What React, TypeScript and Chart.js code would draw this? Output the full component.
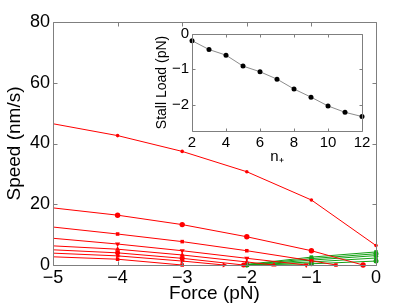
import React, { useEffect, useRef } from "react";
import { Chart, registerables } from "chart.js";
Chart.register(...registerables);

// ---- Main plot data (Force in pN, Speed in nm/s) ----
const forceS1 = [-5, -4, -3, -2, -1, 0];
const speedS1 = [46.5, 42.6, 37.4, 30.7, 21.4, 6.4];
const forceS2 = [-5, -4, -3, -2, -1, -0.2];
const speedS2 = [18.8, 16.4, 13.3, 9.3, 4.7, 0];
const forceS3 = [-5, -4, -3, -2, -1, -0.62];
const speedS3 = [12.5, 10.2, 7.7, 4.7, 1.4, 0];
const forceS4 = [-5, -4, -3, -2, -1.08];
const speedS4 = [8.8, 6.9, 4.7, 2.2, 0];
const forceS5 = [-5, -4, -3, -2, -1.58];
const speedS5 = [6.3, 5.2, 3.3, 1.0, 0];
const forceS6 = [-5, -4, -3, -2.05];
const speedS6 = [5.0, 4.0, 2.2, 0];
const forceS7 = [-5, -4, -3, -2.35];
const speedS7 = [3.9, 3.0, 1.3, 0];
const forceS8 = [-5, -4, -3];
const speedS8 = [2.7, 1.9, 0];

const forceG = [-2, -1, 0];
const speedG1 = [0.2, 2.6, 4.3];
const speedG2 = [0.1, 2.1, 3.7];
const speedG3 = [0.0, 1.6, 3.1];
const speedG4 = [0.0, 1.0, 2.3];
const speedG5 = [0.0, 0.4, 1.3];

const mainXTicks = [-5, -4, -3, -2, -1, 0];
const mainYTicks = [0, 20, 40, 60, 80];

// ---- Inset data ----
const nPlus = [2, 3, 4, 5, 6, 7, 8, 9, 10, 11, 12];
const stallLoad = [-0.19, -0.44, -0.6, -0.91, -1.07, -1.28, -1.56, -1.79, -2.04, -2.22, -2.34];
const insetXTicks = [2, 4, 6, 8, 10, 12];
const insetYTicks = [-2, -1, 0];

const FONT = "'Liberation Sans', Arial, Helvetica, sans-serif";
const RED = "#ff0000";
const GREEN = "#14a014";
const AXIS = "#7f7f7f";

const fmt = (v: number) => String(v).replace("-", "\u2212");
const pts = (xs: number[], ys: number[]) => xs.map((x, i) => ({ x, y: ys[i] }));

function framePlugin(xTicks: number[], yTicks: number[], len: number) {
  return {
    id: "frame",
    beforeDraw(chart: any) {
      const { ctx, chartArea: a } = chart;
      ctx.save();
      ctx.fillStyle = "#ffffff";
      ctx.fillRect(a.left, a.top, a.right - a.left, a.bottom - a.top);
      ctx.restore();
    },
    afterDraw(chart: any) {
      const { ctx, chartArea: a, scales } = chart;
      const x = scales.x, y = scales.y;
      const L = Math.round(a.left) + 0.5, R = Math.round(a.right) + 0.5;
      const T = Math.round(a.top) + 0.5, B = Math.round(a.bottom) + 0.5;
      ctx.save();
      ctx.strokeStyle = AXIS;
      ctx.lineWidth = 1;
      ctx.beginPath();
      ctx.rect(L, T, R - L, B - T);
      for (const v of xTicks) {
        const px = Math.round(x.getPixelForValue(v)) + 0.5;
        ctx.moveTo(px, B); ctx.lineTo(px, B - len);
        ctx.moveTo(px, T); ctx.lineTo(px, T + len);
      }
      for (const v of yTicks) {
        const py = Math.round(y.getPixelForValue(v)) + 0.5;
        ctx.moveTo(L, py); ctx.lineTo(L + len, py);
        ctx.moveTo(R, py); ctx.lineTo(R - len, py);
      }
      ctx.stroke();
      ctx.restore();
    },
  };
}

function redSet(xs: number[], ys: number[], style: string, r: number, rot = 0) {
  return {
    data: pts(xs, ys),
    borderColor: RED,
    backgroundColor: RED,
    borderWidth: 1,
    pointStyle: style,
    pointRotation: rot,
    pointRadius: (c: any) => (c.dataIndex === 0 ? 0 : r),
    pointBorderWidth: 0,
    clip: { left: 0, top: 6, right: 6, bottom: 6 },
  };
}
function greenSet(ys: number[], style: string, r: number) {
  return {
    data: pts(forceG, ys),
    borderColor: GREEN,
    backgroundColor: GREEN,
    borderWidth: 1,
    pointStyle: style,
    pointRadius: r,
    pointBorderWidth: 0,
    clip: { left: 0, top: 6, right: 6, bottom: 6 },
  };
}

const noGrid = { display: false, drawTicks: false };

export default function App() {
  const mainRef = useRef<HTMLCanvasElement>(null);
  const insetRef = useRef<HTMLCanvasElement>(null);

  useEffect(() => {
    const main = new Chart(mainRef.current!, {
      type: "line",
      data: {
        datasets: [
          redSet(forceS8, speedS8, "rect", 2.5),
          redSet(forceS7, speedS7, "triangle", 3, 90),
          redSet(forceS6, speedS6, "circle", 2.5),
          redSet(forceS5, speedS5, "triangle", 3),
          redSet(forceS4, speedS4, "triangle", 3, 180),
          redSet(forceS3, speedS3, "rect", 2.5),
          redSet(forceS2, speedS2, "circle", 2.7),
          redSet(forceS1, speedS1, "circle", 1.8),
          greenSet(speedG5, "circle", 2.5),
          greenSet(speedG4, "rect", 2.5),
          greenSet(speedG3, "triangle", 3),
          greenSet(speedG2, "circle", 2.5),
          greenSet(speedG1, "rect", 2.5),
        ] as any,
      },
      options: {
        animation: false,
        responsive: false,
        layout: { padding: { top: 22, right: 39, left: 0, bottom: 0 } },
        plugins: { legend: { display: false }, tooltip: { enabled: false } },
        elements: { line: { tension: 0 } },
        scales: {
          x: {
            type: "linear",
            min: -5,
            max: 0,
            afterBuildTicks: (s: any) => { s.ticks = mainXTicks.map((v) => ({ value: v })); },
            afterFit: (s: any) => { s.height = 40; },
            grid: noGrid,
            border: { display: false },
            ticks: { autoSkip: false, maxRotation: 0, padding: 2, color: "#000", font: { family: FONT, size: 18 }, callback: (v: any) => fmt(v) },
            title: { display: true, text: "Force (pN)", color: "#000", font: { family: FONT, size: 19 }, padding: { top: 0, bottom: 0 } },
          },
          y: {
            type: "linear",
            min: 0,
            max: 80,
            afterBuildTicks: (s: any) => { s.ticks = mainYTicks.map((v) => ({ value: v })); },
            afterFit: (s: any) => { s.width = 53; },
            grid: noGrid,
            border: { display: false },
            ticks: { autoSkip: false, padding: 3, color: "#000", font: { family: FONT, size: 18 }, callback: (v: any) => fmt(v) },
            title: { display: true, text: "Speed (nm/s)", color: "#000", font: { family: FONT, size: 19 }, padding: { top: 3, bottom: 0 } },
          },
        },
      },
      plugins: [framePlugin(mainXTicks, mainYTicks, 4)],
    } as any);

    const inset = new Chart(insetRef.current!, {
      type: "line",
      data: {
        datasets: [
          {
            data: pts(nPlus, stallLoad),
            borderColor: "#8c8c8c",
            backgroundColor: "#000",
            borderWidth: 1,
            pointRadius: 2.5,
            pointBorderWidth: 0,
            clip: false,
          },
        ] as any,
      },
      options: {
        animation: false,
        responsive: false,
        layout: { padding: { top: 8, right: 13, left: 0, bottom: 0 } },
        plugins: { legend: { display: false }, tooltip: { enabled: false } },
        elements: { line: { tension: 0 } },
        scales: {
          x: {
            type: "linear",
            min: 2,
            max: 12,
            afterBuildTicks: (s: any) => { s.ticks = insetXTicks.map((v) => ({ value: v })); },
            afterFit: (s: any) => { s.height = 41; },
            grid: noGrid,
            border: { display: false },
            ticks: { autoSkip: false, maxRotation: 0, padding: 3, color: "#000", font: { family: FONT, size: 15 }, callback: (v: any) => fmt(v) },
            title: { display: true, text: "n\u208A", color: "#000", font: { family: FONT, size: 15 }, padding: { top: 0, bottom: 6 } },
          },
          y: {
            type: "linear",
            min: -2.75,
            max: 0,
            afterBuildTicks: (s: any) => { s.ticks = insetYTicks.map((v) => ({ value: v })); },
            afterFit: (s: any) => { s.width = 47; },
            grid: noGrid,
            border: { display: false },
            ticks: { autoSkip: false, padding: 3, color: "#000", font: { family: FONT, size: 15 }, callback: (v: any) => fmt(v) },
            title: { display: true, text: "Stall Load (pN)", color: "#000", font: { family: FONT, size: 14 }, padding: { top: 9, bottom: 0 } },
          },
        },
      },
      plugins: [framePlugin(insetXTicks, insetYTicks, 3)],
    } as any);

    return () => {
      main.destroy();
      inset.destroy();
    };
  }, []);

  return (
    <div style={{ position: "fixed", left: 0, top: 0, width: 415, height: 305, background: "#fff" }}>
      <canvas ref={mainRef} width={415} height={305} style={{ position: "absolute", left: 0, top: 0 }} />
      <canvas ref={insetRef} width={230} height={150} style={{ position: "absolute", left: 145, top: 22 }} />
    </div>
  );
}
